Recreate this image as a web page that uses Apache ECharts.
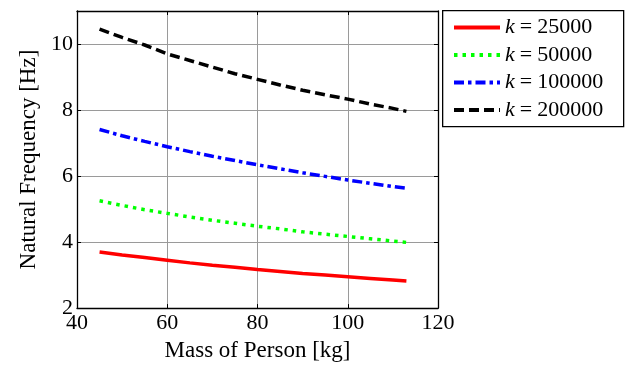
<!DOCTYPE html>
<html><head><meta charset="utf-8">
<script src="https://cdn.jsdelivr.net/npm/echarts@6/dist/echarts.min.js"></script>
<style>html,body{margin:0;padding:0;background:#fff}#c{width:627px;height:367px}</style>
</head><body><div id="c"></div>
<script>
var masses = [45,50,55,60,65,70,75,80,85,90,95,100,105,110,113];
var k25000  = [3.70,3.61,3.53,3.45,3.37,3.30,3.24,3.17,3.11,3.05,3.00,2.95,2.90,2.85,2.82];
var k50000  = [5.25,5.11,4.98,4.87,4.76,4.66,4.57,4.48,4.40,4.31,4.24,4.17,4.10,4.03,3.99];
var k100000 = [7.41,7.22,7.05,6.89,6.74,6.60,6.47,6.34,6.22,6.10,5.99,5.88,5.78,5.68,5.63];
var k200000 = [10.45,10.20,9.97,9.70,9.50,9.30,9.10,8.93,8.76,8.60,8.46,8.33,8.18,8.05,7.96];
var seriesNames = ['25000','50000','100000','200000'];
var xTicks = [40,60,80,100,120];
var yTicks = [2,4,6,8,10];

function pairs(ys){return masses.map(function(m,i){return [m,ys[i]];});}
var font = 'Liberation Serif';
var chart = echarts.init(document.getElementById('c'), null, {renderer:'canvas'});
var styles = [
  {color:'#ff0000', type:'solid'},
  {color:'#00ff00', type:[3.5,5]},
  {color:'#0000ff', type:[10,4,3.5,4]},
  {color:'#000000', type:[10,5]}
];
var datas = [k25000,k50000,k100000,k200000];
var series = datas.map(function(d,i){
  return {name:'k = '+seriesNames[i], type:'line', data:pairs(d), symbol:'none', smooth:false,
    lineStyle:{color:styles[i].color, width:3.5, type:styles[i].type, cap:'butt'},
    itemStyle:{color:styles[i].color}};
});
var baseAxis = {
  axisLine:{show:true, lineStyle:{color:'#000', width:1.3}},
  axisTick:{show:true, inside:true, length:4, lineStyle:{color:'#000'}},
  splitLine:{show:false}
};
chart.setOption({
  animation:false,
  grid:{left:77, right:189, top:11, bottom:55, containLabel:false},
  xAxis:[
    Object.assign({}, baseAxis, {type:'value', min:40, max:120, interval:20, position:'bottom',
      axisLabel:{fontFamily:font, fontSize:22, color:'#000', margin:4,
        formatter:function(v){return xTicks.indexOf(v)>=0? String(v):'';}},
      splitLine:{show:true, lineStyle:{color:'#9a9a9a', width:1}},
      name:'Mass of Person [kg]', nameLocation:'middle', nameGap:28,
      nameTextStyle:{fontFamily:font, fontSize:23, color:'#000'}}),
    Object.assign({}, baseAxis, {type:'value', min:40, max:120, interval:20, position:'top',
      axisLabel:{show:false}})
  ],
  yAxis:[
    Object.assign({}, baseAxis, {type:'value', min:2, max:11, interval:2, position:'left',
      axisLabel:{fontFamily:font, fontSize:22, color:'#000', margin:4, showMaxLabel:false,
        formatter:function(v){return yTicks.indexOf(v)>=0? String(v):'';}},
      splitLine:{show:true, lineStyle:{color:'#9a9a9a', width:1}},
      name:'Natural Frequency [Hz]', nameLocation:'middle', nameGap:32, nameRotate:90,
      nameTextStyle:{fontFamily:font, fontSize:23, color:'#000'}}),
    Object.assign({}, baseAxis, {type:'value', min:2, max:11, interval:2, position:'right',
      axisLabel:{show:false}})
  ],
  legend:{
    orient:'vertical', left:452, top:16.5, padding:0, itemWidth:46, itemHeight:14, itemGap:5.5,
    itemStyle:{opacity:0},
    lineStyle:{width:4, cap:'butt'},
    data:series.map(function(s){return s.name;}),
    formatter:function(n){return '{i|k}{e|=}'+n.slice(4);},
    textStyle:{fontFamily:font, fontSize:22, color:'#000', lineHeight:22,
      rich:{i:{fontFamily:font, fontStyle:'italic', fontSize:22, lineHeight:22},
            e:{fontFamily:font, fontSize:22, lineHeight:22, padding:[0,5,0,5]}}}
  },
  graphic:[{type:'rect', left:442, top:10, shape:{width:181, height:116},
    style:{fill:'#fff', stroke:'#000', lineWidth:1.3}, z:-1}],
  series:series
});
</script></body></html>
